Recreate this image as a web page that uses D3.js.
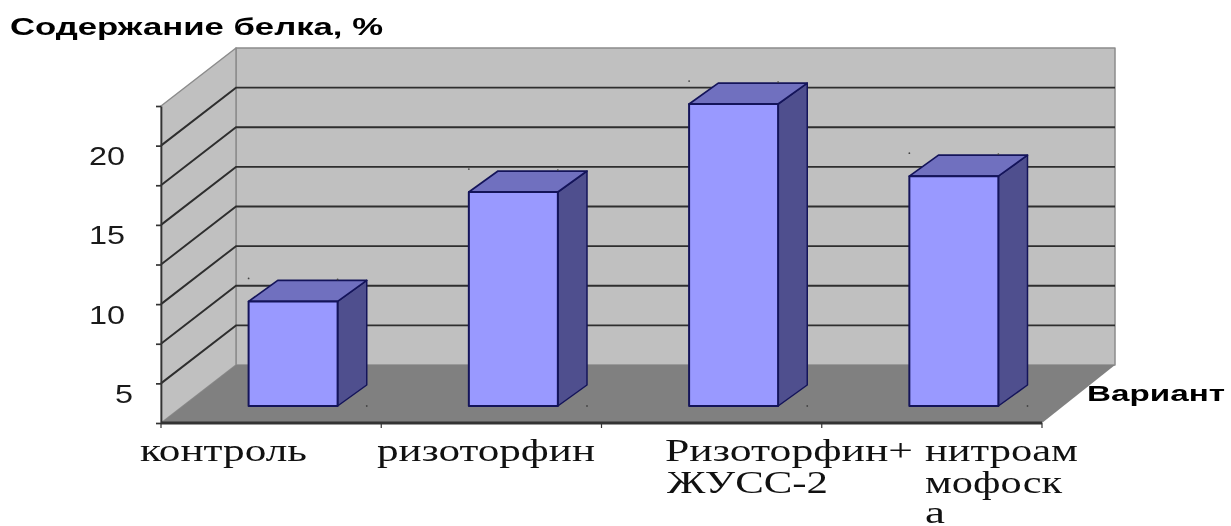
<!DOCTYPE html>
<html><head><meta charset="utf-8">
<script src="https://cdnjs.cloudflare.com/ajax/libs/d3/7.8.5/d3.min.js"></script>
<style>html,body{margin:0;padding:0;background:#fff;overflow:hidden}svg{display:block;filter:blur(0.55px)}</style>
</head><body><svg id="c" width="1231" height="526"></svg>
<script>
const categories = ["контроль", "ризоторфин", "Ризоторфин+ ЖУСС-2", "нитроаммофоска"];
const categoryLines = [["контроль"], ["ризоторфин"], ["Ризоторфин+", "ЖУСС-2"], ["нитроам", "мофоск", "а"]];
const proteinValues = [9.1, 16.0, 21.55, 17.0];
const yTickValues = [2.5, 5, 7.5, 10, 12.5, 15, 17.5, 20, 22.5];
const yTickLabels = [5, 10, 15, 20];
const titleText = "Содержание белка, %";
const xTitleText = "Вариант";

const svg = d3.select("#c");
const x0 = 161, x1 = 1042, yBase = 423, yTop = 106;
const depthX = 75, depthY = 58;
const x = d3.scaleBand().domain(categories).range([x0, x1]).paddingInner(0).paddingOuter(0);
const y = d3.scaleLinear().domain([2.5, 22.5]).range([yBase, yTop]);
const poly = (pts, fill, stroke, sw) => svg.append("polygon")
  .attr("points", pts.map(p => p.join(",")).join(" "))
  .attr("fill", fill).attr("stroke", stroke || "none").attr("stroke-width", sw || 0)
  .attr("stroke-linejoin", "round");

// walls & floor
poly([[x0 + depthX, y(22.5) - depthY], [x1 + depthX - 2, y(22.5) - depthY], [x1 + depthX - 2, yBase - depthY], [x0 + depthX, yBase - depthY]], "#c0c0c0", "#8c8c8c", 1.5);
poly([[x0, y(22.5)], [x0 + depthX, y(22.5) - depthY], [x0 + depthX, yBase - depthY], [x0, yBase]], "#c0c0c0", "#8c8c8c", 1.5);
poly([[x0, yBase], [x0 + depthX, yBase - depthY], [x1 + depthX - 2, yBase - depthY], [x1, yBase]], "#808080", "none");

// gridlines
yTickValues.slice(1, -1).forEach(v => {
  svg.append("path").attr("fill", "none").attr("stroke", "#2e2e2e").attr("stroke-width", 1.9)
    .attr("d", d3.line()([[x0, y(v)], [x0 + depthX, y(v) - depthY], [x1 + depthX - 2, y(v) - depthY]]));
});

// axes
svg.append("g").attr("transform", `translate(${x0},0)`).attr("color", "#333")
  .call(d3.axisLeft(y).tickValues(yTickValues).tickSize(5).tickFormat("").tickSizeOuter(0))
  .call(g => g.selectAll("path,line").attr("stroke-width", 1.7));
svg.append("path").attr("stroke", "#333").attr("stroke-width", 3)
  .attr("d", d3.line()([[x0, yBase], [x1, yBase]]));
const bandTicks = categories.map(c => x(c)).concat([x1]);
svg.selectAll(".xt").data(bandTicks).join("line").attr("class", "xt")
  .attr("x1", d => d).attr("x2", d => d).attr("y1", yBase).attr("y2", yBase + 5)
  .attr("stroke", "#333").attr("stroke-width", 1.2);

// bars
const barW = 89, front = 0.293, back = 0.655;
const barData = categories.map((c, i) => ({ c, v: proteinValues[i] }));
barData.forEach(d => {
  const l = x(d.c) + (x.bandwidth() - barW) / 2 + front * depthX;
  const r = l + barW, dy0 = front * depthY, top = y(d.v) - dy0, bot = yBase - dy0;
  const ox = (back - front) * depthX + 2, oy = (back - front) * depthY;
  const stroke = "#14145a";
  poly([[r, top], [r + ox, top - oy], [r + ox, bot - oy], [r, bot]], "#4f4f8e", stroke, 1.5);
  poly([[l, top], [l + ox, top - oy], [r + ox, top - oy], [r, top]], "#7070bf", stroke, 1.7);
  poly([[l, top], [r, top], [r, bot], [l, bot]], "#9999ff", stroke, 2);
  // faint print specks around each bar
  [[l, top - oy - 2], [r, top - oy - 1], [r + ox, bot]].forEach(p =>
    svg.append("circle").attr("cx", p[0]).attr("cy", p[1]).attr("r", 0.9).attr("fill", "#444"));
});

// y tick labels
const tickRight = v => v < 10 ? 133 : 125;
svg.selectAll(".yl").data(yTickLabels).join("text").attr("class", "yl")
  .attr("x", tickRight).attr("y", d => y(d) + 19.5).attr("text-anchor", "end")
  .attr("font-family", "Liberation Sans").attr("font-size", 25).attr("fill", "#1a1a1a")
  .attr("textLength", d => d < 10 ? 18 : 36).attr("lengthAdjust", "spacingAndGlyphs")
  .text(d => d);

// category labels
const labelLeft = [140, 377, 665, 925];
const labelWidths = [[167], [218], [248, 161], [153, 137, 20]];
const lineY = [461, 493, 523];
categoryLines.forEach((lines, i) => lines.forEach((t, j) => {
  svg.append("text").attr("x", labelLeft[i] + (i === 2 && j === 1 ? 2 : 0)).attr("y", lineY[j])
    .attr("font-family", "Liberation Serif").attr("font-size", 31).attr("fill", "#111")
    .attr("textLength", labelWidths[i][j]).attr("lengthAdjust", "spacingAndGlyphs").text(t);
}));

// titles
svg.append("text").attr("x", 10).attr("y", 35).attr("font-family", "Liberation Sans").attr("font-weight", "bold")
  .attr("font-size", 24).attr("fill", "#000").attr("textLength", 373).attr("lengthAdjust", "spacingAndGlyphs").text(titleText);
svg.append("text").attr("x", 1087).attr("y", 401).attr("font-family", "Liberation Sans").attr("font-weight", "bold")
  .attr("font-size", 22).attr("fill", "#000").attr("textLength", 138).attr("lengthAdjust", "spacingAndGlyphs").text(xTitleText);
</script></body></html>
